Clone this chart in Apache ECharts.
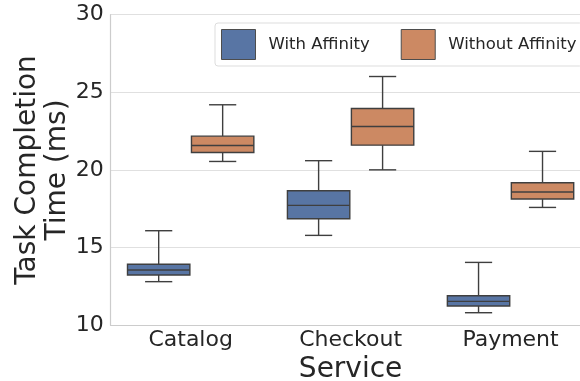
<!DOCTYPE html>
<html>
<head>
<meta charset="utf-8">
<script src="https://cdn.jsdelivr.net/npm/echarts@6/dist/echarts.min.js"></script>
<style>html,body{margin:0;padding:0;background:#fff;}#c{width:580px;height:381px;}</style>
</head>
<body>
<div id="c"></div>
<script>
const categories = ['Catalog', 'Checkout', 'Payment'];
// [min, Q1, median, Q3, max]
const withAffinity = [
  [12.81, 13.24, 13.56, 13.93, 16.09],
  [15.79, 16.86, 17.72, 18.66, 20.60],
  [10.81, 11.24, 11.54, 11.90, 14.05]
];
const withoutAffinity = [
  [20.55, 21.13, 21.58, 22.18, 24.20],
  [20.01, 21.60, 22.80, 23.96, 26.02],
  [17.59, 18.13, 18.58, 19.18, 21.20]
];
const yTicks = [10, 15, 20, 25, 30];

const FONT = 'DejaVu Sans';
const TEXT = '#262626';
const EDGE = '#3f3f3f';
const BLUE = '#5875a4';
const ORANGE = '#cc8963';

function makeRender(offsetFrac, fill) {
  return function (params, api) {
    const x = api.value(0);
    const band = api.size([1, 0])[0];
    const pMin = api.coord([x, api.value(1)]);
    const pQ1 = api.coord([x, api.value(2)]);
    const pMed = api.coord([x, api.value(3)]);
    const pQ3 = api.coord([x, api.value(4)]);
    const pMax = api.coord([x, api.value(5)]);
    const cx = pMin[0] + offsetFrac * band;
    const w = 0.39 * band;
    const cap = 0.17 * band;
    const ls = { stroke: EDGE, lineWidth: 1.4 };
    return {
      type: 'group',
      children: [
        { type: 'line', shape: { x1: cx, y1: pQ3[1], x2: cx, y2: pMax[1] }, style: ls },
        { type: 'line', shape: { x1: cx, y1: pQ1[1], x2: cx, y2: pMin[1] }, style: ls },
        { type: 'line', shape: { x1: cx - cap / 2, y1: pMax[1], x2: cx + cap / 2, y2: pMax[1] }, style: ls },
        { type: 'line', shape: { x1: cx - cap / 2, y1: pMin[1], x2: cx + cap / 2, y2: pMin[1] }, style: ls },
        { type: 'rect', shape: { x: cx - w / 2, y: pQ3[1], width: w, height: pQ1[1] - pQ3[1] },
          style: { fill: fill, stroke: EDGE, lineWidth: 1.4 } },
        { type: 'line', shape: { x1: cx - w / 2, y1: pMed[1], x2: cx + w / 2, y2: pMed[1] }, style: ls }
      ]
    };
  };
}

function toData(arr) {
  return arr.map((v, i) => [i].concat(v));
}

const chart = echarts.init(document.getElementById('c'));
chart.setOption({
  animation: false,
  backgroundColor: '#fff',
  textStyle: { fontFamily: FONT },
  legend: {
    orient: 'horizontal',
    left: 215, top: 23,
    width: 420,
    padding: [6, 6, 6, 6],
    itemWidth: 34, itemHeight: 30,
    itemGap: 31,
    borderColor: '#dddddd', borderWidth: 1, borderRadius: 3,
    backgroundColor: 'rgba(255,255,255,0.8)',
    icon: 'rect',
    textStyle: { fontFamily: FONT, fontSize: 16.5, color: TEXT, padding: [0, 0, 0, 8] },
    data: [
      { name: 'With Affinity', itemStyle: { color: BLUE, borderColor: '#4d4d4d', borderWidth: 1 } },
      { name: 'Without Affinity', itemStyle: { color: ORANGE, borderColor: '#4d4d4d', borderWidth: 1 } }
    ]
  },
  grid: { left: 110.7, top: 14.7, bottom: 55.7, right: -10.5, outerBoundsMode: 'none', containLabel: false },
  xAxis: {
    type: 'category',
    data: categories,
    name: 'Service',
    nameLocation: 'middle',
    nameGap: 30,
    nameMoveOverlap: false,
    nameTextStyle: { fontFamily: FONT, fontSize: 28, color: TEXT },
    axisLine: { show: true, lineStyle: { color: '#cccccc', width: 1.2 } },
    axisTick: { show: false },
    axisLabel: { fontFamily: FONT, fontSize: 22, color: TEXT, margin: 4 },
    splitLine: { show: false }
  },
  yAxis: {
    type: 'value',
    min: yTicks[0], max: yTicks[yTicks.length - 1], interval: 5,
    name: 'Task Completion\nTime (ms)',
    nameLocation: 'middle',
    nameRotate: 90,
    nameGap: 38,
    nameMoveOverlap: false,
    nameTextStyle: { fontFamily: FONT, fontSize: 28, color: TEXT, lineHeight: 30 },
    axisLine: { show: true, lineStyle: { color: '#cccccc', width: 1.2 } },
    axisTick: { show: false },
    axisLabel: { fontFamily: FONT, fontSize: 22, color: TEXT, margin: 7 },
    splitLine: { show: true, lineStyle: { color: '#e0e0e0', width: 1.2 } }
  },
  series: [
    {
      name: 'With Affinity', type: 'custom',
      itemStyle: { color: BLUE },
      encode: { x: 0, y: [1, 2, 3, 4, 5] },
      renderItem: makeRender(-0.2, BLUE),
      data: toData(withAffinity)
    },
    {
      name: 'Without Affinity', type: 'custom',
      itemStyle: { color: ORANGE },
      encode: { x: 0, y: [1, 2, 3, 4, 5] },
      renderItem: makeRender(0.2, ORANGE),
      data: toData(withoutAffinity)
    }
  ]
});
</script>
</body>
</html>
